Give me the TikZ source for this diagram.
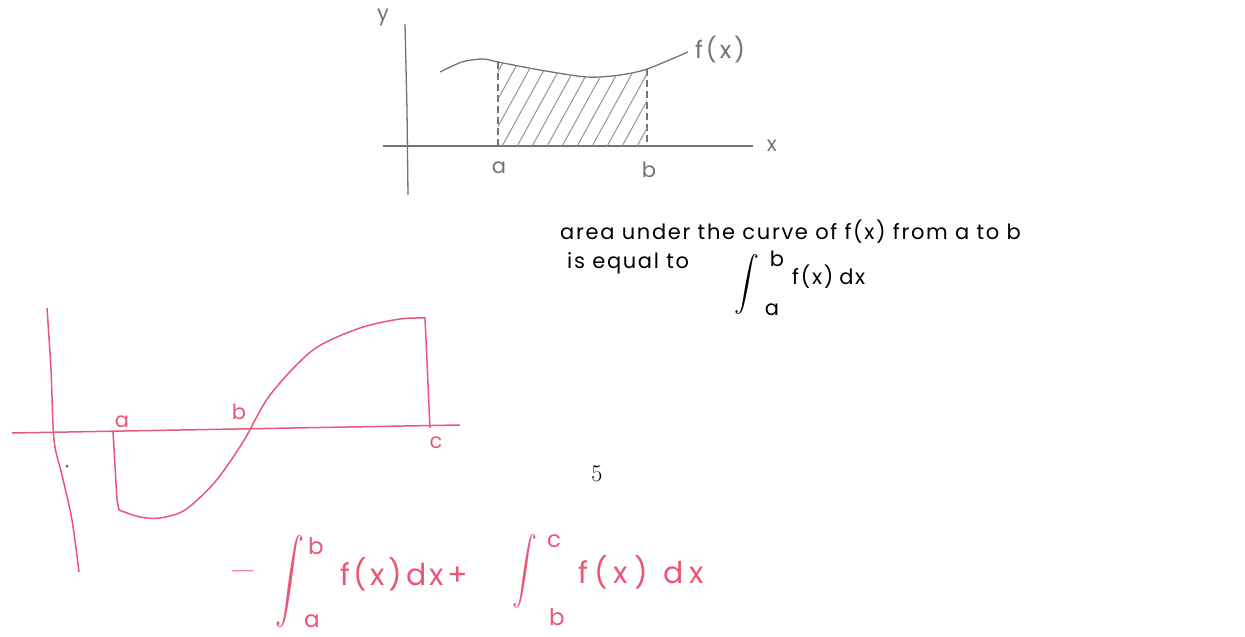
\documentclass[tikz,border=0pt]{standalone}
\usepackage{amsmath}
\usepackage{fontspec}
\setmainfont{Poppins}
\newfontfamily\pagefont{Latin Modern Roman}
\definecolor{pencil}{RGB}{115,115,115}
\definecolor{redpen}{RGB}{236,86,118}
\tikzset{
  pencilline/.style={draw=pencil,line width=1.3pt},
  redline/.style={draw=redpen,line width=1.5pt},
  hand/.style={inner sep=0pt,font=\fontsize{21}{24}\selectfont\addfontfeature{LetterSpace=8}},
  bighand/.style={inner sep=0pt,font=\fontsize{30}{33}\selectfont\addfontfeature{LetterSpace=12}},
  limit/.style={inner sep=0pt,font=\fontsize{23}{26}\selectfont},
}
\newcommand{\tallint}[2]{\scalebox{#1}[#2]{$\displaystyle\int$}}

\begin{document}
\begin{tikzpicture}[x=1pt,y=-1pt]
\useasboundingbox (0,0) rectangle (1245,637);

% top graph, pencil
\begin{scope}[every node/.style={hand,text=pencil}]
    \node (ylab) at (383,17) {y};
    \node (xlab) at (772,146) {x};
    \node (alab) at (499,168) {a};
    \node (blab) at (649,170) {b};
    \node[anchor=west,font=\fontsize{24}{27}\selectfont\addfontfeature{LetterSpace=12}] (flab) at (695,50) {f(x)};
\end{scope}
\draw[pencilline] (405,24) -- (407,110) -- (408,195);
\draw[pencilline] (383,146) -- (753,146);
\draw[pencilline] plot[smooth] coordinates {(440,72) (462,62) (483,59) (498,62)
    (540,70) (587,77) (620,75) (647,69) (688,52)};
\draw[pencilline,dash pattern=on 7pt off 4pt] (498,62) -- (498,146);
\draw[pencilline,dash pattern=on 7pt off 4pt] (647,69) -- (647,146);
\begin{scope}
    \clip (498,146) -- plot[smooth] coordinates {(498,62) (540,70) (587,77) (620,75) (647,69)} -- (647,146) -- cycle;
    \foreach \i in {0,...,16}
        \draw[draw=pencil!75,line width=1pt] (440+\i*15,150) -- ++(55,-100);
\end{scope}

% explanation text
\node[hand,anchor=base west] (line1) at (560,239) {area under the curve of f(x) from a to b};
\node[hand,anchor=base west] (line2) at (567,268) {is equal to};
\node[inner sep=0pt,anchor=base] (int1) at (747,291) {\fontsize{20}{24}\selectfont\smash{\tallint{1.2}{1.3}}};
\node[hand] (int1b) at (777,259) {b};
\node[hand] (int1a) at (772,310) {a};
\node[hand,anchor=base west] (int1f) at (792,284) {f(x)\hspace{6pt}dx};

% page number
\node[inner sep=0pt,font=\pagefont\fontsize{24}{28}\selectfont] (pnum) at (597,474) {5};

% bottom graph, red
\begin{scope}[every node/.style={hand,text=redpen}]
    \node (ared) at (122,422) {a};
    \node (bred) at (239,412) {b};
    \node (cred) at (436,443) {c};
\end{scope}
\draw[redline] plot[smooth] coordinates {(47,308) (51,370) (54,440) (62,475) (72,520) (79,572)};
\draw[redline] (12,433) -- (460,425);
\draw[redline] (113,432) -- (117,500) -- (119,510)
    plot[smooth] coordinates {(119,510) (140,517) (160,518) (185,510) (215,482)
    (243,442) (270,395) (313,350) (360,328) (400,319) (425,318)}
    -- (430,428);
\fill[redpen!70!black] (67,466) circle (1.5);

% bottom formula, red
\begin{scope}[every node/.style={bighand,text=redpen}]
    \node (minus) at (243,571) {\scalebox{1.4}[1]{$-$}};
    \node (int2) at (290,582) {\fontsize{22}{26}\selectfont\tallint{1.4}{2.0}};
    \node[limit] (int2b) at (316,546) {b};
    \node[limit] (int2a) at (312,621) {a};
    \node[anchor=base west] (int2f) at (340,585) {f(x)dx+};
    \node (int3) at (525,571) {\fontsize{22}{26}\selectfont\tallint{1.2}{1.6}};
    \node[limit] (int3c) at (554,541) {c};
    \node[limit] (int3b) at (557,617) {b};
    \node[anchor=base west,font=\fontsize{30}{33}\selectfont\addfontfeature{LetterSpace=20}] (int3f) at (578,583) {f(x)\hspace{16pt}dx};
\end{scope}
\end{tikzpicture}
\end{document}
